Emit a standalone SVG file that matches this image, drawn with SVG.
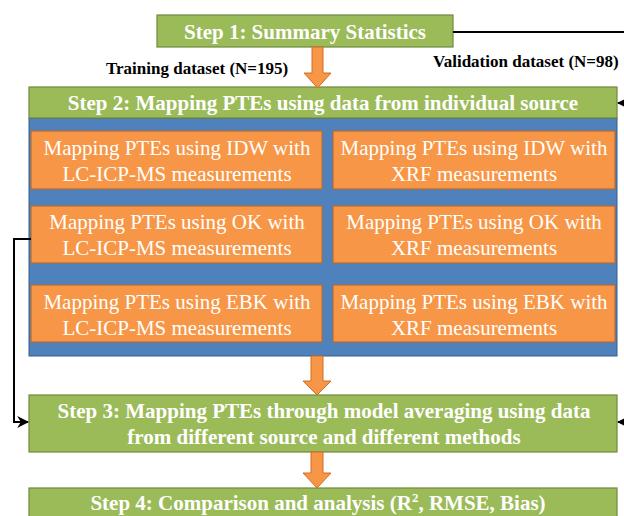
<svg xmlns="http://www.w3.org/2000/svg" width="624" height="516" viewBox="0 0 624 516">
<style>
.step{fill:#9bbb59;stroke:#71893f;stroke-width:1.2}
.panel{fill:#4f81bd;stroke:#385d8a;stroke-width:1}
.box{fill:#f79646;stroke:#b66d31;stroke-width:1.2}
.fat{fill:#f79646;stroke:#d06f22;stroke-width:1}
.st{font-family:"Liberation Serif","Times New Roman",serif;font-weight:bold;font-size:21px;fill:#ffffff;text-anchor:middle}
.bt{font-family:"Liberation Serif","Times New Roman",serif;font-size:21px;fill:#ffffff;text-anchor:middle}
.lbl{font-family:"Liberation Serif","Times New Roman",serif;font-weight:bold;font-size:17px;fill:#000000}
.ln{fill:none;stroke:#000000;stroke-width:2}
</style>
<defs>
<marker id="ah" viewBox="0 0 10 10" refX="9" refY="5" markerWidth="6" markerHeight="6" orient="auto" markerUnits="strokeWidth">
<path d="M0,0 L10,5 L0,10 L3,5 Z" fill="#000000"/>
</marker>
</defs>
<g id="panel"><rect class="panel" x="29" y="118" width="588" height="238"/></g>
<g id="step1"><rect class="step" x="157" y="15" width="296" height="32"/><text class="st" x="305" y="39">Step 1: Summary Statistics</text></g>
<g id="step2"><rect class="step" x="29" y="87" width="588" height="31"/><text class="st" x="323" y="110">Step 2: Mapping PTEs using data from individual source</text></g>
<g id="idw-lc"><rect class="box" x="31" y="131" width="291" height="58"/><text class="bt" x="177" y="155">Mapping PTEs using IDW with</text><text class="bt" x="177" y="181">LC-ICP-MS measurements</text></g>
<g id="idw-xrf"><rect class="box" x="333" y="131" width="282" height="58"/><text class="bt" x="474" y="155">Mapping PTEs using IDW with</text><text class="bt" x="474" y="181">XRF measurements</text></g>
<g id="ok-lc"><rect class="box" x="31" y="206" width="291" height="57"/><text class="bt" x="177" y="229">Mapping PTEs using OK with</text><text class="bt" x="177" y="255">LC-ICP-MS measurements</text></g>
<g id="ok-xrf"><rect class="box" x="333" y="206" width="282" height="57"/><text class="bt" x="474" y="229">Mapping PTEs using OK with</text><text class="bt" x="474" y="255">XRF measurements</text></g>
<g id="ebk-lc"><rect class="box" x="31" y="285" width="291" height="57"/><text class="bt" x="177" y="309">Mapping PTEs using EBK with</text><text class="bt" x="177" y="335">LC-ICP-MS measurements</text></g>
<g id="ebk-xrf"><rect class="box" x="333" y="285" width="282" height="57"/><text class="bt" x="474" y="309">Mapping PTEs using EBK with</text><text class="bt" x="474" y="335">XRF measurements</text></g>
<g id="step3"><rect class="step" x="29" y="395" width="588" height="57"/><text class="st" x="324" y="418">Step 3: Mapping PTEs through model averaging using data</text><text class="st" x="324" y="444">from different source and different methods</text></g>
<g id="step4"><rect class="step" x="29" y="488" width="588" height="40"/><text class="st" x="318" y="510">Step 4: Comparison and analysis (R<tspan font-size="13" dy="-8">2</tspan><tspan dy="8">, RMSE, Bias)</tspan></text></g>
<g id="connectors">
<path class="fat" d="M312,47 H323 V73 H331 L317.5,88 L304,73 H312 Z"/>
<path class="fat" d="M311,356 H323 V381 H331 L317,395 L303,381 H311 Z"/>
<path class="fat" d="M311,452 H323 V473 H331 L317,488 L303,473 H311 Z"/>
<path class="ln" d="M453,32 H626"/>
<path class="ln" d="M626,103 H618" marker-end="url(#ah)"/>
<path class="ln" d="M626,422 H618" marker-end="url(#ah)"/>
<path class="ln" d="M31,239 H14 V422 H28" marker-end="url(#ah)"/>
<text class="lbl" x="106" y="74">Training dataset (N=195)</text>
<text class="lbl" x="433" y="67">Validation dataset (N=98)</text>
</g>
</svg>
